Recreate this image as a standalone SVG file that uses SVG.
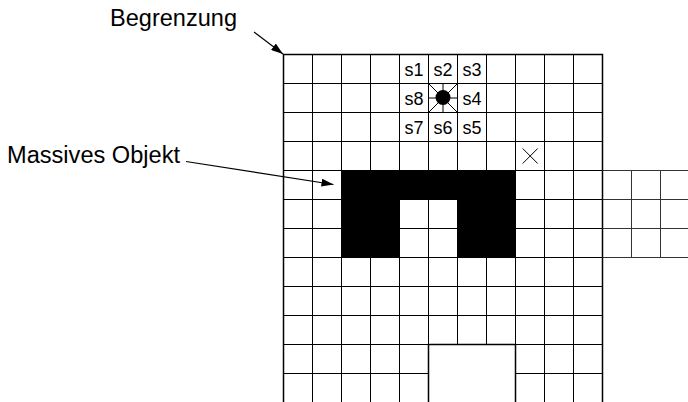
<svg xmlns="http://www.w3.org/2000/svg" width="688" height="402" viewBox="0 0 688 402">
<style>
.g{stroke:#000;stroke-width:1;fill:none}
.gl{stroke:#333;stroke-width:1;fill:none}
.b{stroke:#000;stroke-width:1.5;fill:none}
.lbl{font-family:"Liberation Sans",Arial,sans-serif;font-size:23px;fill:#000}
.s{font-family:"Liberation Sans",Arial,sans-serif;font-size:18px;fill:#000;text-anchor:middle}
.ray{stroke:#000;stroke-width:1}
</style>
<defs>
<marker id="ah" viewBox="0 0 12 8" refX="12" refY="4" markerWidth="12" markerHeight="8" markerUnits="userSpaceOnUse" orient="auto">
<path d="M0,0 L12,4 L0,8 Z" fill="#000"/>
</marker>
</defs>
<rect width="688" height="402" fill="#fff"/>
<g id="grid">
<path class="g" d="M312.5,54.5V402M341.5,54.5V402M370.5,54.5V402M399.5,54.5V402M428.5,54.5V402M457.5,54.5V402M486.5,54.5V402M515.5,54.5V402M544.5,54.5V402M573.5,54.5V402"/>
<path class="g" d="M283.5,83.5H602.5M283.5,112.5H602.5M283.5,141.5H602.5M283.5,170.5H602.5M283.5,199.5H602.5M283.5,228.5H602.5M283.5,257.5H602.5M283.5,286.5H602.5M283.5,315.5H602.5M283.5,344.5H602.5M283.5,373.5H602.5"/>
<path class="b" d="M283.5,402V54.5H602.5V402"/>
</g>
<g id="extension">
<path class="gl" d="M602.5,170.5H688M602.5,199.5H688M602.5,228.5H688M602.5,257.5H688M631.5,170.5V257.5M660.5,170.5V257.5"/>
</g>
<g id="bottom-opening">
<rect x="428.5" y="344.5" width="87" height="58" fill="#fff"/>
<path class="b" d="M428.5,402V344.5H515.5V402"/>
</g>
<g id="massives-objekt">
<path d="M341.5,170.5H515.5V257.5H457.5V199.5H399.5V257.5H341.5Z" fill="#000"/>
</g>
<g id="sensor">
<line class="ray" x1="443" y1="98" x2="428.5" y2="83.5"/>
<line class="ray" x1="443" y1="98" x2="457.5" y2="83.5"/>
<line class="ray" x1="443" y1="98" x2="428.5" y2="112.5"/>
<line class="ray" x1="443" y1="98" x2="457.5" y2="112.5"/>
<line class="ray" x1="443" y1="98" x2="443" y2="83.5"/>
<line class="ray" x1="443" y1="98" x2="443" y2="112.5"/>
<line class="ray" x1="443" y1="98" x2="428.5" y2="98"/>
<line class="ray" x1="443" y1="98" x2="457.5" y2="98"/>
<circle cx="443" cy="97.5" r="7.5" fill="#000"/>
</g>
<g id="sensor-labels">
<text class="s" x="414" y="76">s1</text>
<text class="s" x="443" y="76">s2</text>
<text class="s" x="472" y="76">s3</text>
<text class="s" x="414" y="105">s8</text>
<text class="s" x="472" y="105">s4</text>
<text class="s" x="414" y="134">s7</text>
<text class="s" x="443" y="134">s6</text>
<text class="s" x="472" y="134">s5</text>
</g>
<g id="ziel">
<path class="g" d="M522.7,148.5L537.7,163.5M537.7,148.5L522.7,163.5"/>
</g>
<g id="begrenzung">
<text class="lbl" x="110" y="26" textLength="127" lengthAdjust="spacingAndGlyphs">Begrenzung</text>
</g>
<g id="massives-objekt-label">
<text class="lbl" x="7" y="163" textLength="173" lengthAdjust="spacingAndGlyphs">Massives Objekt</text>
</g>
<g id="connectors">
<line x1="254" y1="32" x2="283" y2="54" stroke="#000" stroke-width="1.2" marker-end="url(#ah)"/>
<line x1="186" y1="161.5" x2="333.5" y2="184.5" stroke="#000" stroke-width="1.2" marker-end="url(#ah)"/>
</g>
</svg>
